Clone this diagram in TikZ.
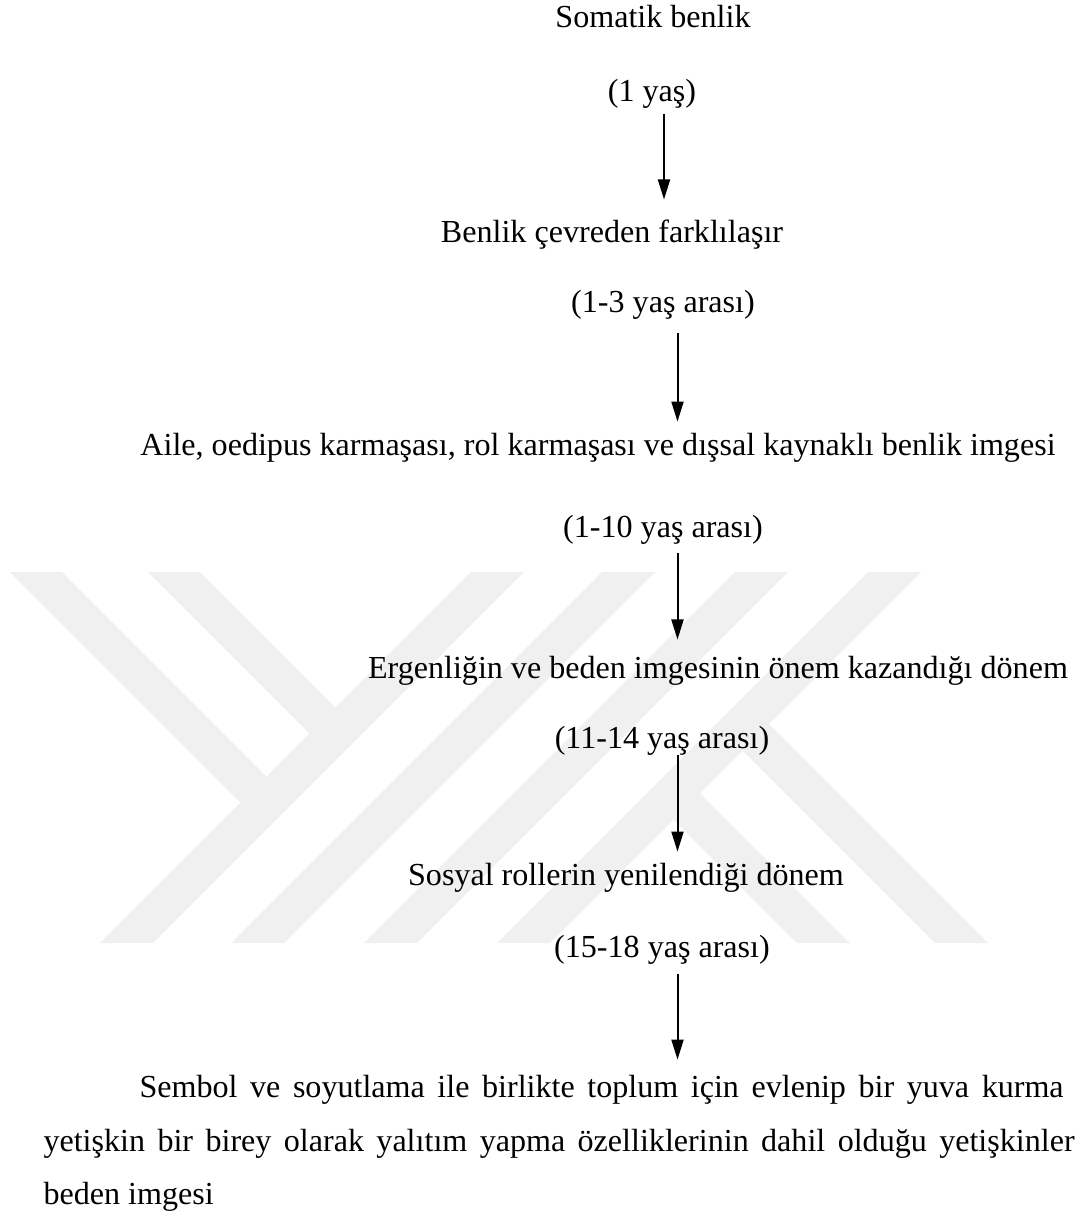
\documentclass[tikz,border=0pt]{standalone}
\usepackage{fontspec}
\setmainfont{Liberation Serif}
\usetikzlibrary{arrows.meta}

\begin{document}
\begin{tikzpicture}[x=0.374pt, y=-0.374pt, >={Triangle[length=7.5pt,width=4.5pt]},
    font=\fontsize{12}{14}\selectfont,
    txt/.style={anchor=base, inner sep=0pt, text height=8pt, text depth=2.5pt},
    arr/.style={->, line width=0.75pt},
    wm/.style={fill=black!6}]
    \useasboundingbox (0,0) rectangle (1078,1216);
    \clip (0,0) rectangle (1078,1216);

    % watermark
    \fill[wm] (471,572) -- (524,572) -- (153,943) -- (100,943) -- cycle;
    \fill[wm] (602,572) -- (655,572) -- (284,943) -- (231,943) -- cycle;
    \fill[wm] (735,572) -- (788,572) -- (417,943) -- (364,943) -- cycle;
    \fill[wm] (868,572) -- (921,572) -- (550,943) -- (497,943) -- cycle;
    \fill[wm] (10,572) -- (62,572) -- (266.5,776.5) -- (240.5,802.5) -- cycle;
    \fill[wm] (148,572) -- (200,572) -- (335.5,707.5) -- (309.5,733.5) -- cycle;
    \fill[wm] (673.5,819.5) -- (700,793) -- (850,943) -- (797,943) -- cycle;
    \fill[wm] (742.5,750.5) -- (769,724) -- (988,943) -- (935,943) -- cycle;

    \node[txt] (som) at (653,27) {Somatik benlik};
    \node[txt] (yas1) at (652,101) {(1 yaş)};
    \node[txt] (cev) at (612,242) {Benlik çevreden farklılaşır};
    \node[txt] (yas2) at (663,312) {(1-3 yaş arası)};
    \node[txt] (aile) at (598,455) {Aile, oedipus karmaşası, rol karmaşası ve dışsal kaynaklı benlik imgesi};
    \node[txt] (yas3) at (663,537) {(1-10 yaş arası)};
    \node[txt] (erg) at (718,678) {Ergenliğin ve beden imgesinin önem kazandığı dönem};
    \node[txt] (yas4) at (662,748) {(11-14 yaş arası)};
    \node[txt] (sos) at (626,885) {Sosyal rollerin yenilendiği dönem};
    \node[txt] (yas5) at (662,957) {(15-18 yaş arası)};
    \node[txt, anchor=base west] (sem1) at (139,1097)
      {\makebox[345.6pt][s]{Sembol ve soyutlama ile birlikte toplum için evlenip bir yuva kurma}};
    \node[txt, anchor=base west] (sem2) at (43,1151)
      {\makebox[385.6pt][s]{yetişkin bir birey olarak yalıtım yapma özelliklerinin dahil olduğu yetişkinler}};
    \node[txt, anchor=base west] (sem3) at (43,1204) {beden imgesi};

    \coordinate (c1) at (664,0);
    \coordinate (c2) at (677.5,0);
    \draw[arr, shorten <=2pt, shorten >=7.7pt] (yas1.south -| c1) -- (cev.north -| c1);
    \draw[arr, shorten <=5.3pt, shorten >=4.3pt] (yas2.south -| c2) -- (aile.north -| c2);
    \draw[arr, shorten <=3.1pt, shorten >=6.2pt] (yas3.south -| c2) -- (erg.north -| c2);
    \draw[arr, shorten >=4.3pt] (yas4.south -| c2) -- (sos.north -| c2);
    \draw[arr, shorten <=3.5pt, shorten >=5.8pt] (yas5.south -| c2) -- (sem1.north -| c2);
\end{tikzpicture}
\end{document}
